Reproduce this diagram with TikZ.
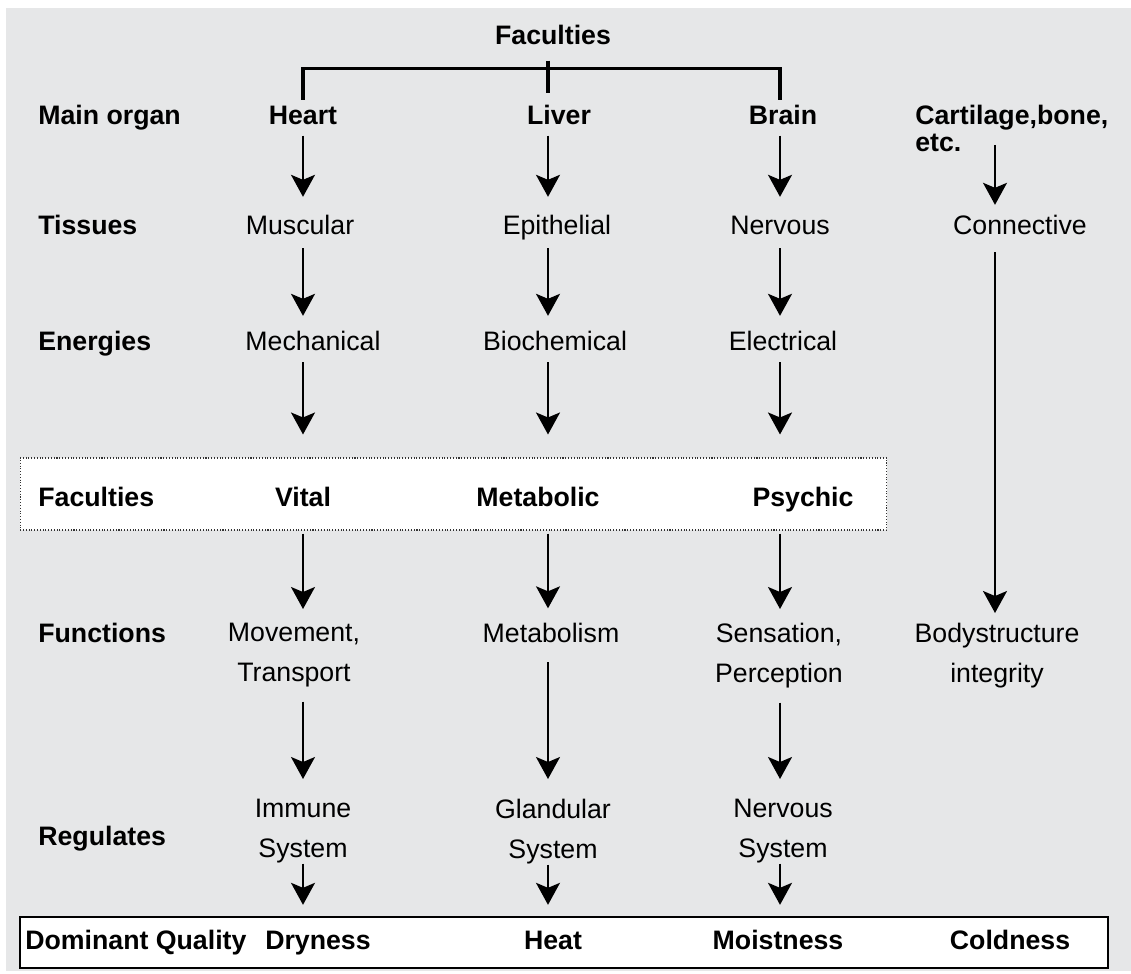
\documentclass[tikz,border=0pt]{standalone}
\usepackage{fontspec}
\setmainfont{Liberation Sans}
\usepackage{tikz}
\usetikzlibrary{arrows.meta,positioning}
\definecolor{panelgray}{RGB}{230,231,232}

\begin{document}
\begin{tikzpicture}[
    x=0.02cm, y=-0.02cm,
    lbl/.style={inner sep=0pt, anchor=base, font=\fontsize{15.2}{22.76}\selectfont, text height=11pt, text depth=3pt},
    head/.style={lbl, font=\fontsize{15.2}{22.76}\selectfont\bfseries},
    rowname/.style={head, anchor=base west},
    twoline/.style={inner sep=0pt, anchor=north, align=center, font=\fontsize{15.2}{22.76}\selectfont},
    facbox/.style={rectangle, draw=black!80, densely dotted, line width=0.6pt, fill=white, minimum width=17.34cm, minimum height=1.44cm, inner sep=0pt},
    qualbox/.style={rectangle, draw=black, line width=1.1pt, fill=white, minimum width=21.76cm, minimum height=1.02cm, inner sep=0pt},
    arrow/.style={-{Stealth[length=0.44cm, width=0.48cm, inset=0.1cm]}, line width=1.1pt},
    bracket/.style={line width=2.1pt}
]

\fill[white] (0,0) rectangle (1131,973);
\useasboundingbox (0,0) rectangle (1131,973);
\fill[panelgray] (6,8) rectangle (1131,971);

\coordinate (c1) at (303,0);
\coordinate (c2) at (548,0);
\coordinate (c3) at (780,0);
\coordinate (c4) at (995,0);

\node[facbox] (facbox) at (453.5,494) {};
\node[qualbox] (qualbox) at (564,942.5) {};

\node[head] (top) at (553,45) {Faculties};

\node[rowname] (rorgan) at (38,125) {Main organ};
\node[rowname] (rtissue) at (38,234) {Tissues};
\node[rowname] (renergy) at (38,350) {Energies};
\node[rowname] (rfac) at (38,506) {Faculties};
\node[rowname] (rfunc) at (38,642) {Functions};
\node[rowname] (rreg) at (38,845) {Regulates};
\node[rowname] (rqual) at (25,949) {Dominant Quality};

\node[head] (heart) at (303,125) {Heart};
\node[head] (liver) at (559,125) {Liver};
\node[head] (brain) at (783,125) {Brain};
\node[twoline, anchor=north west, align=left, font=\fontsize{15.2}{15.4}\selectfont\bfseries] (cart) at (915,105) {Cartilage,bone,\\etc.};

\node[lbl] (musc) at (300,234) {Muscular};
\node[lbl] (epi) at (557,234) {Epithelial};
\node[lbl] (nerv) at (780,234) {Nervous};
\node[lbl] (conn) at (1020,234) {Connective};

\node[lbl] (mech) at (313,350) {Mechanical};
\node[lbl] (bio) at (555,350) {Biochemical};
\node[lbl] (elec) at (783,350) {Electrical};

\node[head] (vital) at (303,506) {Vital};
\node[head] (metab) at (538,506) {Metabolic};
\node[head] (psych) at (803,506) {Psychic};

\node[twoline] (move) at (294,623) {Movement,\\Transport};
\node[lbl] (metism) at (551,642) {Metabolism};
\node[twoline] (sens) at (779,623) {Sensation,\\Perception};
\node[twoline] (body) at (997,623) {Bodystructure\\integrity};

\node[twoline] (immune) at (303,799) {Immune\\System};
\node[twoline] (gland) at (553,799) {Glandular\\System};
\node[twoline] (nsys) at (783,799) {Nervous\\System};

\node[head] (dry) at (318,949) {Dryness};
\node[head] (heat) at (553,949) {Heat};
\node[head] (moist) at (778,949) {Moistness};
\node[head] (cold) at (1010,949) {Coldness};

% bracket under the title
\draw[bracket] ([yshift=0.11cm]heart.north -| c1) |- ([yshift=-0.36cm]top.south -| c2) -| ([yshift=0.11cm]brain.north -| c3);
\draw[bracket] ([yshift=-0.2cm]top.south -| c2) -- ++(0,32);

\draw[arrow, shorten <=0.1cm, shorten >=0.35cm] (heart.south -| c1) -- (musc.north -| c1);
\draw[arrow, shorten <=0.1cm, shorten >=0.35cm] (liver.south -| c2) -- (epi.north -| c2);
\draw[arrow, shorten <=0.1cm, shorten >=0.35cm] (brain.south -| c3) -- (nerv.north -| c3);
\draw[arrow, shorten <=0.8cm, shorten >=0.19cm] (cart.north -| c4) -- (conn.north -| c4);

\draw[arrow, shorten <=0.17cm, shorten >=0.29cm] (musc.south -| c1) -- (mech.north -| c1);
\draw[arrow, shorten <=0.17cm, shorten >=0.29cm] (epi.south -| c2) -- (bio.north -| c2);
\draw[arrow, shorten <=0.17cm, shorten >=0.29cm] (nerv.south -| c3) -- (elec.north -| c3);

\draw[arrow, shorten <=0.13cm, shorten >=0.46cm] (mech.south -| c1) -- (facbox.north -| c1);
\draw[arrow, shorten <=0.13cm, shorten >=0.46cm] (bio.south -| c2) -- (facbox.north -| c2);
\draw[arrow, shorten <=0.13cm, shorten >=0.46cm] (elec.south -| c3) -- (facbox.north -| c3);
\draw[arrow, shorten <=0.25cm, shorten >=0.2cm] (conn.south -| c4) -- (body.north -| c4);

\draw[arrow, shorten <=0.06cm, shorten >=0.28cm] (facbox.south -| c1) -- (move.north -| c1);
\draw[arrow, shorten <=0.06cm, shorten >=0.28cm] (facbox.south -| c2) -- (metism.north -| c2);
\draw[arrow, shorten <=0.06cm, shorten >=0.28cm] (facbox.south -| c3) -- (sens.north -| c3);

\draw[arrow, shorten <=0.28cm, shorten >=0.4cm] (move.south -| c1) -- (immune.north -| c1);
\draw[arrow, shorten <=0.29cm, shorten >=0.4cm] (metism.south -| c2) -- (gland.north -| c2);
\draw[arrow, shorten <=0.28cm, shorten >=0.4cm] (sens.south -| c3) -- (nsys.north -| c3);

\draw[arrow, shorten >=0.49cm] (immune.south -| c1) -- (dry.north -| c1);
\draw[arrow, shorten >=0.49cm] (gland.south -| c2) -- (heat.north -| c2);
\draw[arrow, shorten >=0.49cm] (nsys.south -| c3) -- (moist.north -| c3);

\end{tikzpicture}
\end{document}
